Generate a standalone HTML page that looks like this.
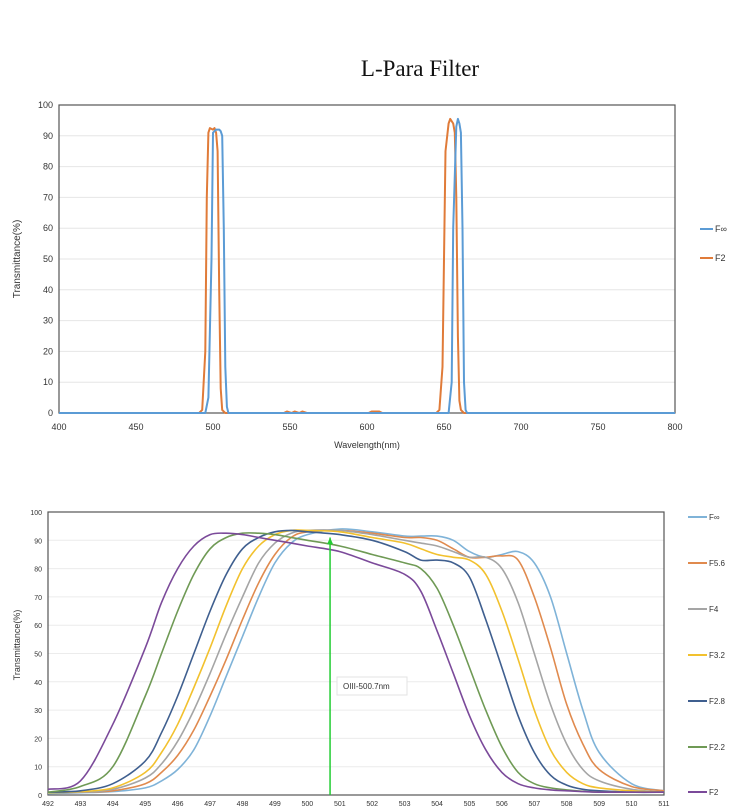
<!DOCTYPE html>
<html><head><meta charset="utf-8"><style>
body{margin:0;background:#fff;width:750px;height:806px;overflow:hidden;font-family:"Liberation Sans",sans-serif}
svg{display:block}
</style></head><body>
<svg id="s" width="750" height="806" xmlns="http://www.w3.org/2000/svg">
<text x="420" y="76" text-anchor="middle" font-family="Liberation Serif,serif" font-size="23" fill="#111">L-Para Filter</text>
<g id="top"></g>
<g id="bot"></g>
</svg>
<script>
// ---- top chart data ----
const topTicksX = [400,450,500,550,600,650,700,750,800];
const topTicksY = [0,10,20,30,40,50,60,70,80,90,100];
const topFinfX = [400,495,497,499,500,502,504,505,506,507,508,509,510,650,653,655,656,658,659,660,661,662,663,664,665,800];
const topFinfY = [0,0,5,50,91,92,92,91.5,90,60,15,2,0,0,0,10,60,93,95.5,94,91,60,10,1,0,0];
const topF2X = [400,491,493,495,496,497,498,500,501,502,503,504,505,506,508,546,548,551,553,556,558,561,601,603,606,608,610,645,647,649,650,651,653,654,656,657,658,659,660,661,663,800];
const topF2Y = [0,0,1,20,70,91,92.5,92,92.5,91,85,40,8,1,0,0,0.5,0,0.5,0,0.5,0,0,0.5,0.5,0.5,0,0,1,15,50,85,94,95.5,94,91,70,25,4,1,0,0];
// ---- bottom chart data ----
const botTicksX = [492,493,494,495,496,497,498,499,500,501,502,503,504,505,506,507,508,509,510,511];
const botTicksY = [0,10,20,30,40,50,60,70,80,90,100];
const wl = [492,493,494,495,495.5,496,496.5,497,497.5,498,498.5,499,499.5,500,501,502,503,503.5,504,504.5,505,505.5,506,506.5,507,507.5,508,508.5,509,510,511];
const sFinf = [0.5,0.8,1.2,2.5,5,9,16,28,42,56,70,82,89,92,94,93,91.5,91.5,91.5,90,86,84,85,86,82,70,50,30,15,4,1.5];
const sF56 = [0.8,1,1.5,4,8,14,23,35,48,62,75,85,91,93,93.5,92.5,91,91,90,87,84,84,84.5,83,70,52,32,18,9,3,1.5];
const sF4 = [0.8,1,2,6,11,19,30,43,57,70,82,89,92.5,93.5,93.5,92,90,89,88,86,84,84,80,68,50,32,18,9,5,2,1];
const sF32 = [0.8,1.2,2.5,8,15,25,38,52,67,80,88,92,93.5,93.5,93,91,89,87,85,84,83,78,65,48,30,16,8,4,2.5,1.5,1];
const sF28 = [1,1.5,4,12,22,35,50,65,78,87,91,93,93.5,93,92,90,86,83,83,82,77,62,45,28,15,7,3.5,2,1.5,1,1];
const sF22 = [1,3,10,35,50,65,78,87,91,92.5,92.5,92,91,90,88,85,82,80,73,60,45,30,17,8,4,2.5,1.8,1.3,1,1,1];
const sF2 = [2,5,25,52,68,80,88,92,92.5,92,91,90,89,88,86,82,78,72,58,43,28,16,8,4,2.5,1.8,1.5,1.2,1,1,1];
const oiiLine = 500.7;

const NS="http://www.w3.org/2000/svg";
function mk(p,t,a){const e=document.createElementNS(NS,t);for(const k in a)e.setAttribute(k,a[k]);p.appendChild(e);return e;}
function smooth(pts){
 let d='M'+pts[0][0].toFixed(1)+','+pts[0][1].toFixed(1);
 for(let i=0;i<pts.length-1;i++){
  const p0=pts[Math.max(0,i-1)],p1=pts[i],p2=pts[i+1],p3=pts[Math.min(pts.length-1,i+2)];
  const c1x=p1[0]+(p2[0]-p0[0])/6,c1y=p1[1]+(p2[1]-p0[1])/6;
  const c2x=p2[0]-(p3[0]-p1[0])/6,c2y=p2[1]-(p3[1]-p1[1])/6;
  d+='C'+c1x.toFixed(1)+','+c1y.toFixed(1)+' '+c2x.toFixed(1)+','+c2y.toFixed(1)+' '+p2[0].toFixed(1)+','+p2[1].toFixed(1);
 }
 return d;
}

// top chart
(function(){
const g=document.getElementById('top');
const X0=59,X1=675,Y0=413,Y1=105;
const sx=v=>X0+(v-400)/400*(X1-X0), sy=v=>Y0-(v/100)*(Y0-Y1);
topTicksY.forEach(v=>{
 if(v>0&&v<100){const l=mk(g,'line',{x1:X0,x2:X1,y1:sy(v),y2:sy(v),stroke:'#e6e6e6','stroke-width':1});
 
 }
 const t=mk(g,'text',{x:X0-6,y:sy(v)+3,'text-anchor':'end','font-size':9,fill:'#333'});t.textContent=v;
 
 
});
topTicksX.forEach(v=>{const t=mk(g,'text',{x:sx(v),y:Y0+17,'text-anchor':'middle','font-size':9,fill:'#333'});t.textContent=v;
 
 });
const b=mk(g,'rect',{x:X0,y:Y1,width:X1-X0,height:Y0-Y1,fill:'none',stroke:'#555','stroke-width':1.2});


const yt=mk(g,'text',{transform:'translate(20,259) rotate(-90)','text-anchor':'middle','font-size':10,fill:'#333'});yt.textContent='Transmittance(%)';


const xt=mk(g,'text',{x:367,y:448,'text-anchor':'middle','font-size':9,fill:'#333'});xt.textContent='Wavelength(nm)';


const series=[[topF2X,topF2Y,'#e07b39','F2'],[topFinfX,topFinfY,'#5b9bd5','F∞']];
series.forEach(s=>{const d=s[0].map((x,i)=>(i?'L':'M')+sx(x).toFixed(1)+','+sy(s[1][i]).toFixed(1)).join('');
 const p=mk(g,'path',{d:d,fill:'none',stroke:s[2],'stroke-width':2,'stroke-linejoin':'round'});
 
 });
[['F∞','#5b9bd5',229],['F2','#e07b39',258]].forEach(e=>{
 const lg=mk(g,'g',{});
 
 
 mk(lg,'line',{x1:700,x2:713,y1:e[2],y2:e[2],stroke:e[1],'stroke-width':2});
 const t=mk(lg,'text',{x:715,y:e[2]+3,'font-size':9,fill:'#333'});t.textContent=e[0];
});
})();

// bottom chart
(function(){
const g=document.getElementById('bot');
const X0=48,X1=664,Y0=795,Y1=512;
const sx=v=>X0+(v-492)/19*(X1-X0), sy=v=>Y0-(v/100)*(Y0-Y1);
botTicksY.forEach(v=>{
 if(v>0&&v<100){const l=mk(g,'line',{x1:X0,x2:X1,y1:sy(v),y2:sy(v),stroke:'#ececec','stroke-width':1});
 
 }
 const t=mk(g,'text',{x:X0-6,y:sy(v)+3,'text-anchor':'end','font-size':7,fill:'#333'});t.textContent=v;
 
 
});
botTicksX.forEach(v=>{const t=mk(g,'text',{x:sx(v),y:Y0+11,'text-anchor':'middle','font-size':7,fill:'#333'});t.textContent=v;
 
 });
const b=mk(g,'rect',{x:X0,y:Y1,width:X1-X0,height:Y0-Y1,fill:'none',stroke:'#555','stroke-width':1.2});


const yt=mk(g,'text',{transform:'translate(20,645) rotate(-90)','text-anchor':'middle','font-size':9,fill:'#333'});yt.textContent='Transmittance(%)';


const series=[[sFinf,'#7fb3d8','F∞','finf'],[sF56,'#e08a4e','F5.6','f5-6'],[sF4,'#a5a5a5','F4','f4'],[sF32,'#f2c12e','F3.2','f3-2'],[sF28,'#3f5f8f','F2.8','f2-8'],[sF22,'#6f9a55','F2.2','f2-2'],[sF2,'#7b4a9a','F2','f2']];
series.forEach(s=>{const pts=wl.map((x,i)=>[sx(x),sy(s[0][i])]);
 const p=mk(g,'path',{d:smooth(pts),fill:'none',stroke:s[1],'stroke-width':1.6,'stroke-linejoin':'round'});
 
 });
const gl=mk(g,'line',{x1:sx(oiiLine),x2:sx(oiiLine),y1:Y0,y2:sy(91),stroke:'#22cc33','stroke-width':1.5});


const ar=mk(g,'path',{d:`M${sx(oiiLine)-3},${sy(90)+4}L${sx(oiiLine)+3},${sy(90)+4}L${sx(oiiLine)},${sy(91)}Z`,fill:'#22cc33'});


const lb=mk(g,'rect',{x:337,y:677,width:70,height:18,fill:'#fff',stroke:'#e3e3e3'});


const lt=mk(g,'text',{x:343,y:689,'font-size':8,fill:'#333'});lt.textContent='OIII-500.7nm';


const ys=[517,563,609,655,701,747,792];
series.forEach((s,i)=>{
 const lg=mk(g,'g',{});
 
 
 mk(lg,'line',{x1:688,x2:707,y1:ys[i],y2:ys[i],stroke:s[1],'stroke-width':2});
 const t=mk(lg,'text',{x:709,y:ys[i]+3,'font-size':8,fill:'#333'});t.textContent=s[2];
});
})();
</script>
</body></html>
